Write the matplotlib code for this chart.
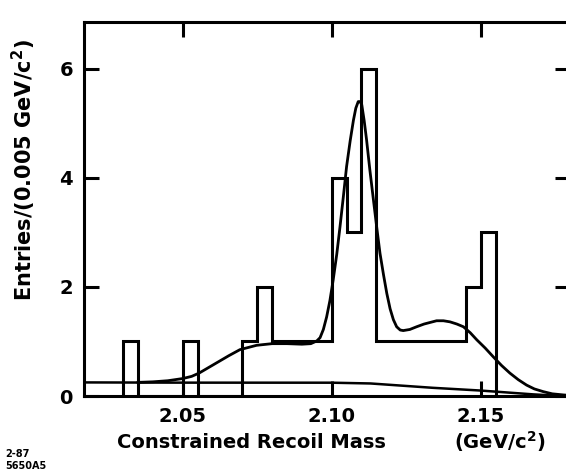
import numpy as np
import matplotlib
matplotlib.use('Agg')
import matplotlib.pyplot as plt

# histogram, 0.005 GeV/c^2 bins starting at 2.030
bin_edges = np.round(np.arange(2.030, 2.1551, 0.005), 3)
counts = [1, 0, 0, 0, 1, 0, 0, 0, 1, 2, 1, 1, 1, 1, 4, 3, 6, 1, 1, 1, 1, 1, 1, 2, 3]

# fitted curve
fit_x = [2.0350, 2.0400, 2.0450, 2.0500, 2.0530, 2.0555, 2.0580, 2.0605, 2.0630,
         2.0655, 2.0692, 2.0748, 2.0800, 2.0850, 2.0900, 2.0930, 2.0950, 2.0961,
         2.0972, 2.0983, 2.0994, 2.1005, 2.1017, 2.1028, 2.1039, 2.1050, 2.1062,
         2.1073, 2.1081, 2.1089, 2.1095, 2.1101, 2.1109, 2.1117, 2.1128, 2.1140,
         2.1151, 2.1162, 2.1174, 2.1185, 2.1196, 2.1207, 2.1218, 2.1230, 2.1240,
         2.1262, 2.1285, 2.1310, 2.1352, 2.1375, 2.1397, 2.1420, 2.1442, 2.1465,
         2.1487, 2.1515, 2.1542, 2.1570, 2.1598, 2.1626, 2.1654, 2.1680, 2.1710,
         2.1740, 2.1777, 2.1800]
fit_y = [0.25, 0.26, 0.28, 0.32, 0.36, 0.42, 0.50, 0.58, 0.66,
         0.74, 0.85, 0.93, 0.96, 0.96, 0.95, 0.96, 1.01, 1.07,
         1.22, 1.45, 1.75, 2.13, 2.60, 3.11, 3.65, 4.21, 4.68,
         5.06, 5.28, 5.40, 5.40, 5.34, 5.05, 4.70, 4.15, 3.60,
         3.10, 2.62, 2.22, 1.88, 1.60, 1.40, 1.27, 1.21, 1.20,
         1.22, 1.27, 1.32, 1.38, 1.38, 1.36, 1.32, 1.27, 1.16,
         1.03, 0.88, 0.72, 0.56, 0.42, 0.30, 0.20, 0.13, 0.08,
         0.04, 0.02, 0.01]

# background
bkg_x = [2.010, 2.050, 2.100, 2.113, 2.134, 2.150, 2.1676, 2.176, 2.180]
bkg_y = [0.25, 0.245, 0.244, 0.23, 0.15, 0.10, 0.03, 0.005, 0.0]

fig = plt.figure(figsize=(5.66, 4.76), dpi=100)
ax = fig.add_axes([84/566, 80/476, 486/566, 374/476])

ax.stairs(counts, bin_edges, baseline=0, color='black', lw=2.2)
ax.plot(fit_x, fit_y, color='black', lw=2.0, solid_joinstyle='round')
ax.plot(bkg_x, bkg_y, color='black', lw=1.8)

ax.set_xlim(2.01688, 2.17997)
ax.set_ylim(0, 6.86)
ax.set_xticks([2.05, 2.10, 2.15])
ax.set_xticklabels(['2.05', '2.10', '2.15'])
ax.set_yticks([0, 2, 4, 6])
ax.tick_params(direction='in', length=11, width=2.2, top=True, right=True,
               labelsize=14, pad=8)
for lab in ax.get_xticklabels() + ax.get_yticklabels():
    lab.set_fontweight('bold')
for s in ax.spines.values():
    s.set_linewidth(2.2)

fig.text(24/566, 1 - 170/476, r'Entries/(0.005 GeV/c$^{\mathbf{2}}$)', rotation=90,
         ha='center', va='center', fontsize=15, fontweight='bold')
fig.text(251/566, 1 - 442/476, 'Constrained Recoil Mass', ha='center', va='center',
         fontsize=14, fontweight='bold')
fig.text(500/566, 1 - 442/476, r'(GeV/c$^{\mathbf{2}}$)', ha='center', va='center',
         fontsize=14, fontweight='bold')
fig.text(5/566, 1 - 454/476, '2-87', ha='left', va='center', fontsize=7, fontweight='bold')
fig.text(5/566, 1 - 466/476, '5650A5', ha='left', va='center', fontsize=7, fontweight='bold')

fig.savefig('out.png', dpi=100)
